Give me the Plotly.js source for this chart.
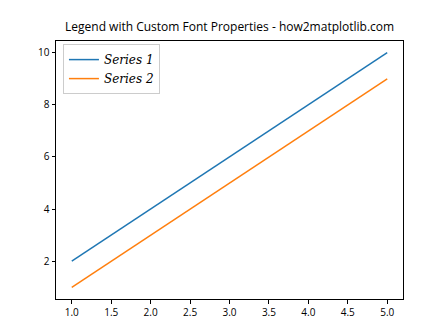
<!DOCTYPE html>
<html>
<head>
<meta charset="utf-8">
<script src="https://cdn.plot.ly/plotly-3.0.1.min.js"></script>
<style>html,body{margin:0;padding:0;background:#fff;}#chart{width:448px;height:336px;}</style>
</head>
<body>
<div id="chart"></div>
<script>
const xValues = [1, 2, 3, 4, 5];
const series1 = [2, 4, 6, 8, 10];
const series2 = [1, 3, 5, 7, 9];
const seriesNames = ["Series 1", "Series 2"];
const xTicks = [1.0, 1.5, 2.0, 2.5, 3.0, 3.5, 4.0, 4.5, 5.0];
const yTicks = [2, 4, 6, 8, 10];

const traces = [
  {x: xValues, y: series1, name: seriesNames[0], type: 'scatter', mode: 'lines', line: {color: '#1f77b4', width: 1.5}},
  {x: xValues, y: series2, name: seriesNames[1], type: 'scatter', mode: 'lines', line: {color: '#ff7f0e', width: 1.5}}
];

const layout = {
  width: 448, height: 336,
  margin: {l: 56, r: 45, t: 41, b: 37},
  paper_bgcolor: '#fff', plot_bgcolor: '#fff',
  font: {family: 'Open Sans, Noto Sans, sans-serif', size: 10, color: '#000'},
  title: {text: 'Legend with Custom Font Properties - how2matplotlib.com', font: {size: 12, color: '#000'}, x: 0.5125, xanchor: 'center', y: 0.92, yanchor: 'middle'},
  xaxis: {range: [0.8, 5.2], tickvals: xTicks, ticktext: xTicks.map(v => v.toFixed(1)), showgrid: false, zeroline: false, showline: true, linecolor: '#000', linewidth: 1, mirror: true, ticks: 'outside', ticklen: 3.5, tickcolor: '#000'},
  yaxis: {range: [0.55, 10.45], tickvals: yTicks, showgrid: false, zeroline: false, showline: true, linecolor: '#000', linewidth: 1, mirror: true, ticks: 'outside', ticklen: 3.5, tickcolor: '#000'},
  showlegend: true,
  legend: {x: 0.02, y: 0.988, xanchor: 'left', yanchor: 'top', bgcolor: 'rgba(255,255,255,0.8)', bordercolor: '#cccccc', borderwidth: 1, font: {family: 'DejaVu Serif, serif', size: 12, style: 'italic', color: '#000'}, tracegroupgap: 0}
};

Plotly.newPlot('chart', traces, layout, {displayModeBar: false, staticPlot: true});
</script>
</body>
</html>
